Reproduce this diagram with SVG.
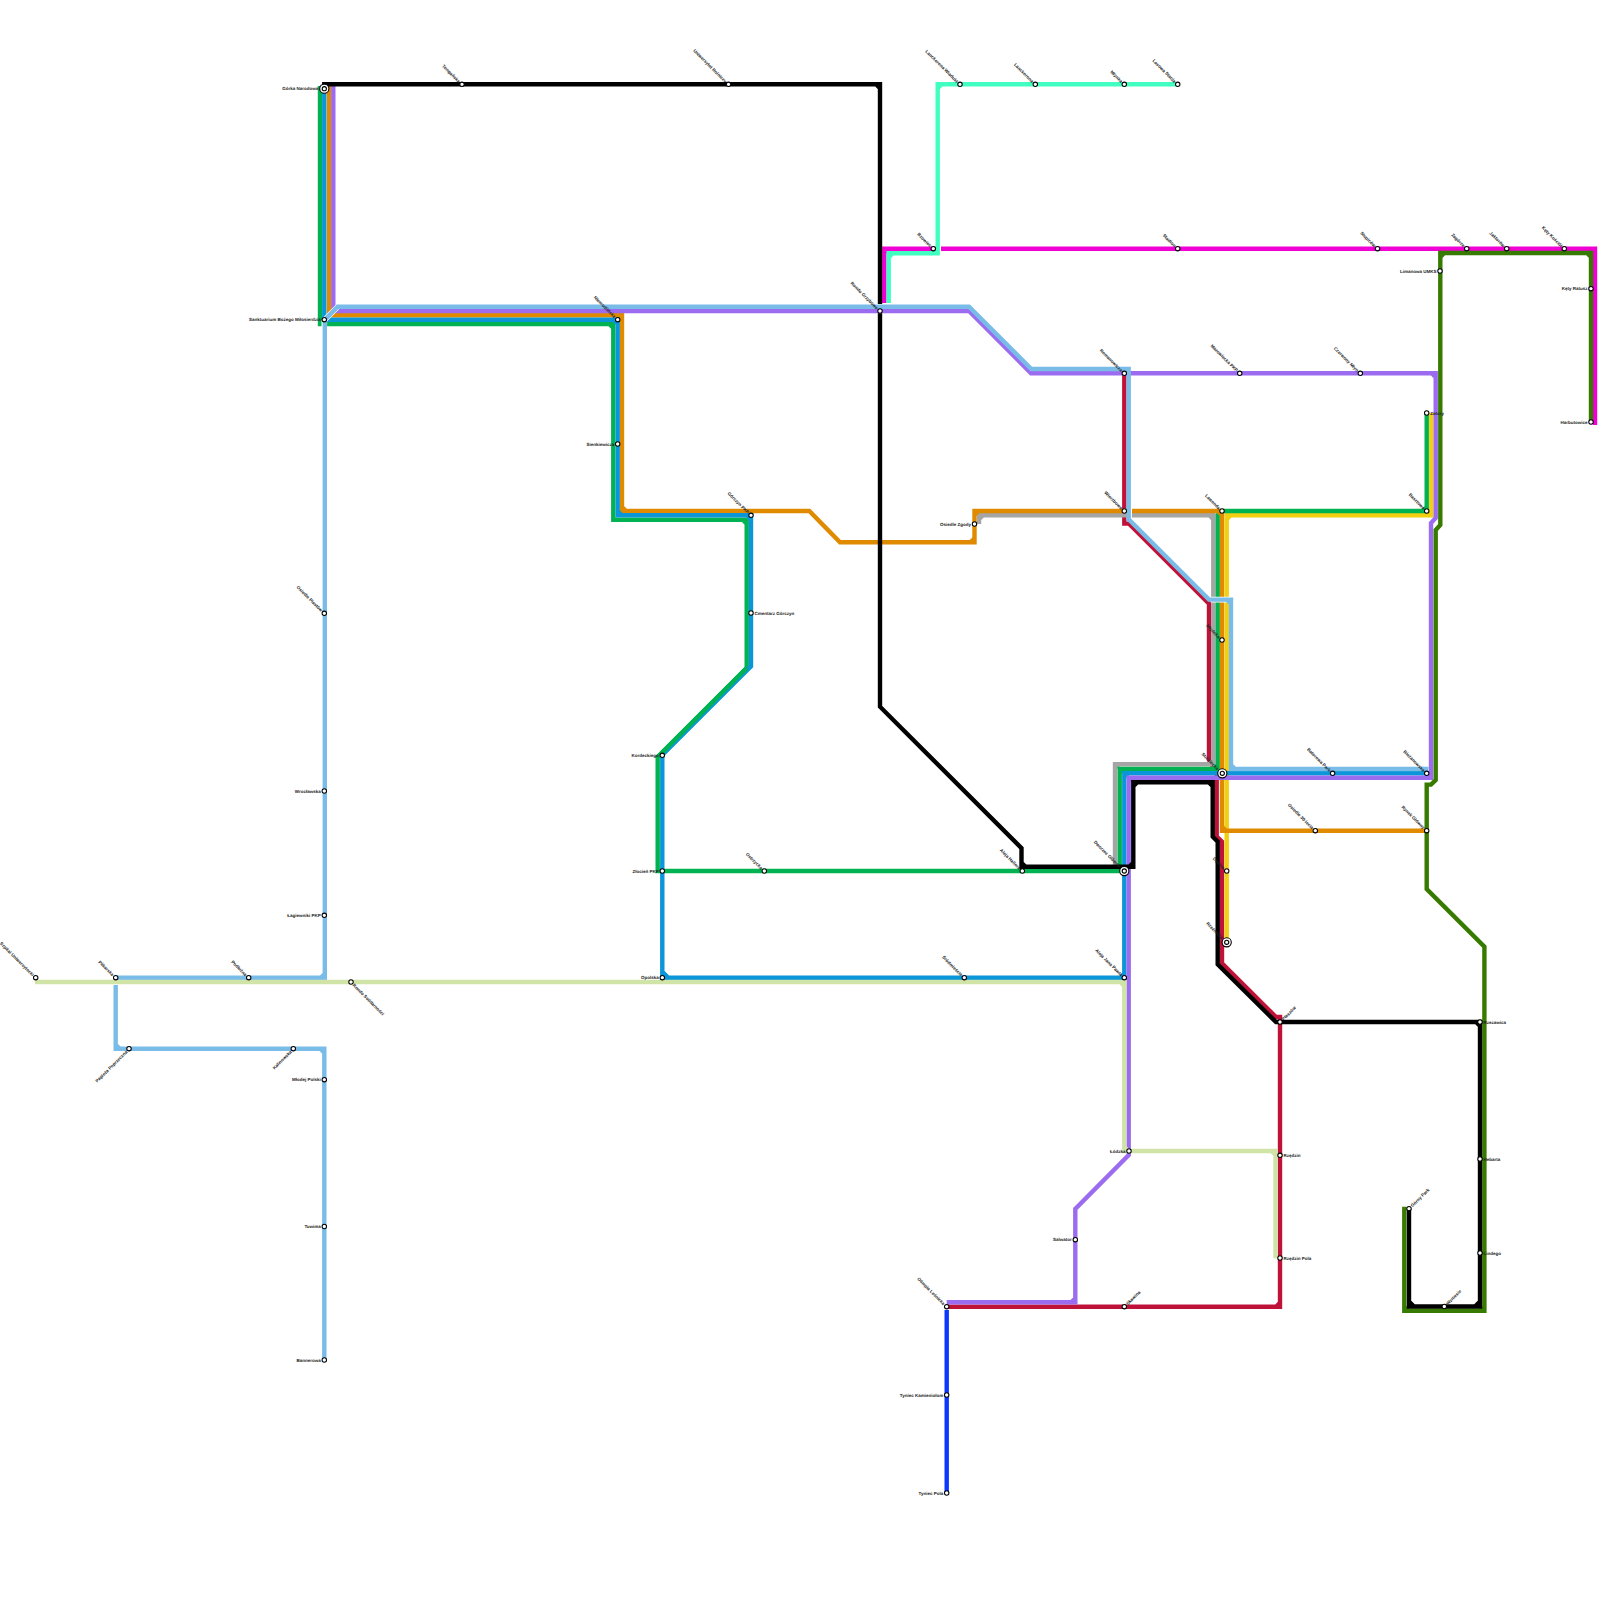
<svg xmlns="http://www.w3.org/2000/svg" width="1600" height="1600" viewBox="0 0 1600 1600">
<style>
.ln{fill:none;stroke-width:4.4;stroke-linejoin:miter;stroke-linecap:butt}
.cs{fill:none;stroke:#fff;stroke-width:5.6}
text{font-family:"Liberation Sans",Arial,sans-serif;font-size:4.5px;font-weight:700;fill:#222;text-rendering:geometricPrecision}
.e{text-anchor:end}
</style>
<defs>
<g id="s"><circle r="2.2" fill="#fff" stroke="#000" stroke-width="1.1"/></g>
<g id="x"><circle r="4.6" fill="#fff" stroke="#000" stroke-width="1.1"/><circle r="2.1" fill="#fff" stroke="#000" stroke-width="1.1"/></g>
</defs>
<rect width="1600" height="1600" fill="#fff"/>
<g id="connectors">
<path class="ln" stroke="#f000d4" d="M884.3,303V248.7H935.5M941,248.7H1595V425M884.3,252.7L888.3,248.7M1591,248.7L1595,252.7"/>
<path class="ln" stroke="#40ffc0" d="M888.7,303V253.3H937.7V84.3H1177.7M888.7,257.3L892.7,253.3M933.7,253.3L937.7,249.3M937.7,88.3L941.7,84.3"/>
<path class="ln" stroke="#bf1239" d="M1124.3,373.3V523.6H1129L1209,603.6V760L1216.7,773V836.7L1222,841.7V963.3L1276,1017H1280V1306.7H946.7M1280,1302.7L1276,1306.7"/>
<path class="ln" stroke="#a5a5a5" d="M979,524V515.3H1213.3V764.3H1115V866M979,519.3L983,515.3M1209.3,515.3L1213.3,519.3M1213.3,760.3L1209.3,764.3M1119,764.3L1115,768.3"/>
<path class="ln" stroke="#f2d010" d="M1431.3,413V515.3H1226.7V942.3M1431.3,511.3L1427.3,515.3M1230.7,515.3L1226.7,519.3"/>
<path class="ln" stroke="#00b251" d="M1426.7,413V511H1222L1217.7,515V769H1119.7V871H657.7V757L746.7,668V519.7H613.3V324H320V86M1426.7,507L1422.7,511M1217.7,765L1213.7,769M1123.7,769L1119.7,773M1119.7,867L1115.7,871M746.7,523.7L742.7,519.7M613.3,328L609.3,324"/>
<path class="ln" stroke="#e08a00" d="M329,86V315.3H622V511H809.3L840,542.3H974.5V511H1222V830.7H1426.7M329,311.3L333,315.3M618,315.3L622,319.3M622,507L626,511M970.5,542.3L974.5,538.3M974.5,515L978.5,511M1218,511L1222,515M1222,826.7L1226,830.7"/>
<path class="ln" stroke="#0a96d8" d="M324.3,88.7V319.7H617.7V515.3H751V666.3L662.3,755V977.7H1124.3V773.3H1426.7M324.3,315.7L328.3,319.7M613.7,319.7L617.7,323.7M617.7,511.3L621.7,515.3M747,515.3L751,519.3M662.3,971.7L668.3,977.7M1120.3,977.7L1124.3,973.7M1124.3,777.3L1128.3,773.3"/>
<path class="ln" stroke="#00b251" d="M746.7,668L657.7,757"/>
<path class="ln" stroke="#9c6cf0" d="M333.3,86V311H969L1031,373.3H1435.7V518L1431,523V777.7H1128.7V1155L1075.3,1209V1302.3H946.7M333.3,307L337.3,311M1431.7,373.3L1435.7,377.3M1431,773.7L1427,777.7M1132.7,777.7L1128.7,781.7M1075.3,1298.3L1071.3,1302.3"/>
<path class="cs" d="M324.5,320L337.7,306.7M324.3,320V328M1211,599.6H1229"/>
<rect x="1127" y="507" width="5" height="11" fill="#fff"/>
<path class="ln" stroke="#7abce8" d="M324.3,1360V1048.7H115.7V985M115.7,977.7H324.8V319.7L337.7,306.7H969L1031.3,369H1128.7V519.3L1209,599.6H1231V769H1428.5M324.3,1052.7L320.3,1048.7M119.7,1048.7L115.7,1044.7M320.8,977.7L324.8,973.7M1124.7,369L1128.7,373M1227,599.6L1231,603.6M1231,765L1235,769"/>
<path class="ln" stroke="#d0e4a8" d="M35,982H1124.3V1151H1275.5V1258.3M1120.3,982L1124.3,986M1124.3,1147L1128.3,1151M1271.5,1151L1275.5,1155"/>
<path class="ln" stroke="#377a00" d="M1591,422V253H1440.3V525L1435.7,530V780L1431,784.6H1426.7V889L1484.4,946.7V1310.7H1404.3V1206.7M1591,257L1587,253M1444.3,253L1440.3,257M1484.4,1306.7L1480.4,1310.7M1408.3,1310.7L1404.3,1306.7"/>
<path class="ln" stroke="#000" d="M324.3,88.7V84.3H880V304M880,313.3V706.7L1021.5,848.2V866.7H1133.3V782.3H1212.7V836.7L1217.7,841.7V964.3L1276,1022H1480V1306.5H1409V1208.7M876,84.3L880,88.3M1021.5,862.7L1025.5,866.7M1129.3,866.7L1133.3,862.7M1133.3,786.3L1137.3,782.3M1208.7,782.3L1212.7,786.3M1476,1022L1480,1026M1480,1301.5L1475,1306.5M1414,1306.5L1409,1301.5"/>
<path class="ln" stroke="#0a38ff" d="M946.7,1310V1493"/>
</g>
<g id="stations">
<g id="n01" transform="translate(324.3,88.7)"><use href="#x"/><text class="e" x="-6" y="1.6">Górka Narodowa</text></g>
<g id="n02" transform="translate(324.3,319.7)"><use href="#s"/><text class="e" x="-3.5" y="1.6">Sanktuarium Bożego Miłosierdzia</text></g>
<g id="n03" transform="translate(617.7,444)"><use href="#s"/><text class="e" x="-3.5" y="1.6">Sienkiewicza</text></g>
<g id="n04" transform="translate(662.3,755.3)"><use href="#s"/><text class="e" x="-3.5" y="1.6">Kordeckiego</text></g>
<g id="n05" transform="translate(662.3,871)"><use href="#s"/><text class="e" x="-3.5" y="1.6">Złocień PKP</text></g>
<g id="n06" transform="translate(662.3,977.7)"><use href="#s"/><text class="e" x="-3.5" y="1.6">Opolska</text></g>
<g id="n07" transform="translate(324.3,791)"><use href="#s"/><text class="e" x="-3.5" y="1.6">Wrocławska</text></g>
<g id="n08" transform="translate(324.3,915.3)"><use href="#s"/><text class="e" x="-3.5" y="1.6">Łagiewniki PKP</text></g>
<g id="n09" transform="translate(324.3,1079.7)"><use href="#s"/><text class="e" x="-3.5" y="1.6">Młodej Polski</text></g>
<g id="n10" transform="translate(324.3,1226.5)"><use href="#s"/><text class="e" x="-3.5" y="1.6">Tuwima</text></g>
<g id="n11" transform="translate(324.3,1360)"><use href="#s"/><text class="e" x="-3.5" y="1.6">Bannerowa</text></g>
<g id="n12" transform="translate(974.5,524)"><use href="#s"/><text class="e" x="-3.5" y="1.6">Osiedle Zgody</text></g>
<g id="n13" transform="translate(1440,271)"><use href="#s"/><text class="e" x="-3.5" y="1.6">Limanowa UMKS</text></g>
<g id="n14" transform="translate(1591,288.7)"><use href="#s"/><text class="e" x="-3.5" y="1.6">Kęty Ratusz</text></g>
<g id="n15" transform="translate(1591,422)"><use href="#s"/><text class="e" x="-3.5" y="1.6">Harbutowice</text></g>
<g id="n16" transform="translate(946.7,1395)"><use href="#s"/><text class="e" x="-3.5" y="1.6">Tyniec Kamieniołom</text></g>
<g id="n17" transform="translate(946.7,1493)"><use href="#s"/><text class="e" x="-3.5" y="1.6">Tyniec Pola</text></g>
<g id="n18" transform="translate(1129,1151)"><use href="#s"/><text class="e" x="-3.5" y="1.6">Łódzka</text></g>
<g id="n19" transform="translate(1075.3,1239.7)"><use href="#s"/><text class="e" x="-3.5" y="1.6">Salwator</text></g>
<g id="n20" transform="translate(751,613)"><use href="#s"/><text x="3.5" y="1.6">Cmentarz Górczyn</text></g>
<g id="n21" transform="translate(1280,1155.3)"><use href="#s"/><text x="3.5" y="1.6">Rzędzin</text></g>
<g id="n22" transform="translate(1280,1258)"><use href="#s"/><text x="3.5" y="1.6">Rzędzin Pola</text></g>
<g id="n23" transform="translate(1426.7,413)"><use href="#s"/><text x="3.5" y="1.6">Zatory</text></g>
<g id="n24" transform="translate(1480,1022)"><use href="#s"/><text x="3.5" y="1.6">Rzezawica</text></g>
<g id="n25" transform="translate(1480,1159)"><use href="#s"/><text x="3.5" y="1.6">Hebarta</text></g>
<g id="n26" transform="translate(1480,1253)"><use href="#s"/><text x="3.5" y="1.6">Lindego</text></g>
<g id="n27" transform="translate(462,84.3)"><use href="#s"/><text class="e" transform="rotate(45)" x="-3.5" y="1.6">Tongańska</text></g>
<g id="n28" transform="translate(728.5,84.3)"><use href="#s"/><text class="e" transform="rotate(45)" x="-3.5" y="1.6">Uniwersytet Rolniczy</text></g>
<g id="n29" transform="translate(960,84.3)"><use href="#s"/><text class="e" transform="rotate(45)" x="-3.5" y="1.6">Lanckorona Wiadukt</text></g>
<g id="n30" transform="translate(1035.3,84.3)"><use href="#s"/><text class="e" transform="rotate(45)" x="-3.5" y="1.6">Lanckorona</text></g>
<g id="n31" transform="translate(1124.3,84.3)"><use href="#s"/><text class="e" transform="rotate(45)" x="-3.5" y="1.6">Młynka</text></g>
<g id="n32" transform="translate(1177.7,84.3)"><use href="#s"/><text class="e" transform="rotate(45)" x="-3.5" y="1.6">Lasowa Stacja</text></g>
<g id="n33" transform="translate(933.3,248.7)"><use href="#s"/><text class="e" transform="rotate(45)" x="-3.5" y="1.6">Bzowiec</text></g>
<g id="n34" transform="translate(880,311)"><use href="#s"/><text class="e" transform="rotate(45)" x="-3.5" y="1.6">Rondo Grzybowe</text></g>
<g id="n35" transform="translate(1177.7,248.7)"><use href="#s"/><text class="e" transform="rotate(45)" x="-3.5" y="1.6">Stadion</text></g>
<g id="n36" transform="translate(1377.5,248.7)"><use href="#s"/><text class="e" transform="rotate(45)" x="-3.5" y="1.6">Słupiców</text></g>
<g id="n37" transform="translate(1466.7,248.7)"><use href="#s"/><text class="e" transform="rotate(45)" x="-3.5" y="1.6">Zagórze</text></g>
<g id="n38" transform="translate(1506.7,248.7)"><use href="#s"/><text class="e" transform="rotate(45)" x="-3.5" y="1.6">Jaktorów</text></g>
<g id="n39" transform="translate(1564.3,248.7)"><use href="#s"/><text class="e" transform="rotate(45)" x="-3.5" y="1.6">Kęty Kościół</text></g>
<g id="n40" transform="translate(617.7,319.7)"><use href="#s"/><text class="e" transform="rotate(45)" x="-3.5" y="1.6">Niemodlińska</text></g>
<g id="n41" transform="translate(751,515.3)"><use href="#s"/><text class="e" transform="rotate(45)" x="-3.5" y="1.6">Górczyn PKP</text></g>
<g id="n42" transform="translate(324.3,613.3)"><use href="#s"/><text class="e" transform="rotate(45)" x="-3.5" y="1.6">Osiedle Piastów</text></g>
<g id="n43" transform="translate(115.7,977.7)"><use href="#s"/><text class="e" transform="rotate(45)" x="-3.5" y="1.6">Piłkarska</text></g>
<g id="n44" transform="translate(248.7,977.7)"><use href="#s"/><text class="e" transform="rotate(45)" x="-3.5" y="1.6">Podłużna</text></g>
<g id="n45" transform="translate(35.7,977.7)"><use href="#s"/><text class="e" transform="rotate(45)" x="-3.5" y="1.6">Szpital Uniwersytecki</text></g>
<g id="n46" transform="translate(764.3,871)"><use href="#s"/><text class="e" transform="rotate(45)" x="-3.5" y="1.6">Ostrzycka</text></g>
<g id="n47" transform="translate(964.3,977.7)"><use href="#s"/><text class="e" transform="rotate(45)" x="-3.5" y="1.6">Śródmieście</text></g>
<g id="n48" transform="translate(1124.3,977.7)"><use href="#s"/><text class="e" transform="rotate(45)" x="-3.5" y="1.6">Aleja Jana Pawła</text></g>
<g id="n49" transform="translate(1022.3,871)"><use href="#s"/><text class="e" transform="rotate(45)" x="-3.5" y="1.6">Aleja Hallera</text></g>
<g id="n50" transform="translate(1124.3,871)"><use href="#x"/><text class="e" transform="rotate(45)" x="-6" y="1.6">Dworzec Główny</text></g>
<g id="n51" transform="translate(1124.3,373.3)"><use href="#s"/><text class="e" transform="rotate(45)" x="-3.5" y="1.6">Romanowicza</text></g>
<g id="n52" transform="translate(1239.7,373.3)"><use href="#s"/><text class="e" transform="rotate(45)" x="-3.5" y="1.6">Mazowiecka PKP</text></g>
<g id="n53" transform="translate(1360.3,373.3)"><use href="#s"/><text class="e" transform="rotate(45)" x="-3.5" y="1.6">Czerwony Młyn</text></g>
<g id="n54" transform="translate(1124.3,511)"><use href="#s"/><text class="e" transform="rotate(45)" x="-3.5" y="1.6">Wierzbowa</text></g>
<g id="n55" transform="translate(1222,511)"><use href="#s"/><text class="e" transform="rotate(45)" x="-3.5" y="1.6">Lawenda</text></g>
<g id="n56" transform="translate(1426.7,511)"><use href="#s"/><text class="e" transform="rotate(45)" x="-3.5" y="1.6">Basztowa</text></g>
<g id="n57" transform="translate(1222,640)"><use href="#s"/><text class="e" transform="rotate(45)" x="-3.5" y="1.6">Młyńska</text></g>
<g id="n58" transform="translate(1222.3,773.3)"><use href="#x"/><text class="e" transform="rotate(45)" x="-6" y="1.6">Strzelecka</text></g>
<g id="n59" transform="translate(1332.6,773.3)"><use href="#s"/><text class="e" transform="rotate(45)" x="-3.5" y="1.6">Batorowa Park</text></g>
<g id="n60" transform="translate(1426.7,773.3)"><use href="#s"/><text class="e" transform="rotate(45)" x="-3.5" y="1.6">Bieżanowska</text></g>
<g id="n61" transform="translate(1315.3,830.7)"><use href="#s"/><text class="e" transform="rotate(45)" x="-3.5" y="1.6">Osiedle 30-lecia</text></g>
<g id="n62" transform="translate(1426.7,830.7)"><use href="#s"/><text class="e" transform="rotate(45)" x="-3.5" y="1.6">Rynek Główny</text></g>
<g id="n63" transform="translate(1226.7,871)"><use href="#s"/><text class="e" transform="rotate(45)" x="-3.5" y="1.6">Dębina</text></g>
<g id="n64" transform="translate(1226.7,942.3)"><use href="#x"/><text class="e" transform="rotate(45)" x="-6" y="1.6">Rzeźnicka</text></g>
<g id="n65" transform="translate(351,982)"><use href="#s"/><text transform="rotate(45)" x="3.5" y="1.6">Rondo Solidarności</text></g>
<g id="n66" transform="translate(129,1048.7)"><use href="#s"/><text class="e" transform="rotate(-45)" x="-3.5" y="1.6">Papieża Poprzeczna</text></g>
<g id="n67" transform="translate(293.3,1048.7)"><use href="#s"/><text class="e" transform="rotate(-45)" x="-3.5" y="1.6">Kalinowska</text></g>
<g id="n68" transform="translate(1409,1208.7)"><use href="#s"/><text transform="rotate(-45)" x="3.5" y="1.6">Górny Park</text></g>
<g id="n69" transform="translate(1444.3,1306.5)"><use href="#s"/><text transform="rotate(-45)" x="3.5" y="1.6">Wzniesie</text></g>
<g id="n70" transform="translate(1124.3,1306.7)"><use href="#s"/><text transform="rotate(-45)" x="3.5" y="1.6">Skawina</text></g>
<g id="n71" transform="translate(946.7,1306.7)"><use href="#s"/><text class="e" transform="rotate(45)" x="-3.5" y="1.6">Olimpia Leśnicka</text></g>
<g id="n72" transform="translate(1280,1022)"><use href="#s"/><text transform="rotate(-45)" x="3.5" y="1.6">Płaszów</text></g>
</g>
</svg>
